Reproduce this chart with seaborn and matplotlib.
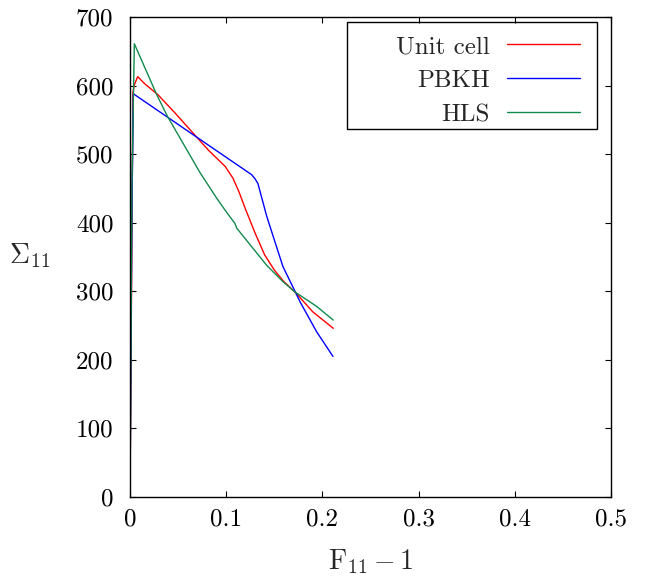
import matplotlib
matplotlib.use("Agg")
import matplotlib.pyplot as plt
from matplotlib.patches import Rectangle
import seaborn as sns
import pandas as pd

# Data
unit_x = [0.0, 0.002, 0.003, 0.0045, 0.008, 0.015, 0.0295, 0.0468, 0.066, 0.0814, 0.099,
          0.107, 0.113, 0.12, 0.13, 0.14, 0.15, 0.16, 0.1715, 0.19, 0.2113]
unit_y = [0, 380, 590, 601, 613, 603, 586, 560, 530, 506, 482,
          465, 446, 420, 385, 353, 331, 314, 299, 270, 246]

pbkh_x = [0.0, 0.002, 0.0035, 0.066, 0.1265, 0.130, 0.133, 0.142, 0.15, 0.159, 0.1715,
          0.177, 0.194, 0.211]
pbkh_y = [0, 420, 588, 528, 470, 464, 457, 410, 375, 336, 300,
          284, 241, 205]

hls_x = [0.0, 0.002, 0.0045, 0.028, 0.039, 0.0728, 0.090, 0.099, 0.109, 0.111, 0.142,
         0.159, 0.1715, 0.194, 0.2113]
hls_y = [0, 450, 661, 586, 555, 473, 436, 418, 399, 392, 338,
         314, 299, 278, 258]

labels = ["Unit cell", "PBKH", "HLS"]
colors = ["#ff0000", "#0000ff", "#118a4c"]
x_ticks = [0, 0.1, 0.2, 0.3, 0.4, 0.5]
x_tick_labels = ["0", "0.1", "0.2", "0.3", "0.4", "0.5"]
y_ticks = [0, 100, 200, 300, 400, 500, 600, 700]

sns.set_style("ticks")
plt.rcParams["font.family"] = ["cmr10", "DejaVu Serif"]
plt.rcParams["mathtext.fontset"] = "cm"
plt.rcParams["axes.formatter.use_mathtext"] = True
plt.rcParams["axes.unicode_minus"] = False

W, H = 646, 580
fig = plt.figure(figsize=(W / 100, H / 100), dpi=100)
ax = fig.add_axes([130 / W, 83 / H, 481 / W, 480 / H])

frames = []
for lab, xs, ys in zip(labels, [unit_x, pbkh_x, hls_x], [unit_y, pbkh_y, hls_y]):
    frames.append(pd.DataFrame({"x": xs, "y": ys, "series": lab}))
df = pd.concat(frames, ignore_index=True)

sns.lineplot(data=df, x="x", y="y", hue="series", hue_order=labels,
             palette=colors, sort=False, estimator=None, linewidth=1.0, ax=ax)

ax.set_xlim(0, 0.5)
ax.set_ylim(0, 700)
ax.set_xticks(x_ticks)
ax.set_xticklabels(x_tick_labels)
ax.set_yticks(y_ticks)
ax.set_yticklabels([str(v) for v in y_ticks])
ax.tick_params(direction="in", length=4.5, width=0.8, top=True, right=True,
               labelsize=18, colors="black")
ax.tick_params(axis="x", pad=8)
ax.tick_params(axis="y", pad=12)
for s in ax.spines.values():
    s.set_visible(True)
    s.set_color("black")
    s.set_linewidth(1.0)

ax.set_xlabel(r"$\mathrm{F}_{11} - 1$", fontsize=20, va="center")
ax.xaxis.set_label_coords(0.5, (497 - 562) / 480)
ax.set_ylabel(r"$\Sigma_{11}$", fontsize=20, rotation=0, ha="center", va="center")
ax.yaxis.set_label_coords(-100 / 481, 0.503)

leg = ax.legend(loc="upper right", bbox_to_anchor=(592 / W, 1 - 23 / H),
                bbox_transform=fig.transFigure, markerfirst=False,
                fontsize=18, frameon=False, handlelength=2.9,
                borderpad=0.0, labelspacing=0.46, handletextpad=0.7)
for t in leg.get_texts():
    t.set_ha("right")
leg._legend_box.align = "right"

fig.patches.append(Rectangle((347 / W, 1 - 129 / H), 250 / W, 107 / H,
                             transform=fig.transFigure, fill=False,
                             edgecolor="black", linewidth=1.0, zorder=5))

fig.savefig("out.png", dpi=100)
